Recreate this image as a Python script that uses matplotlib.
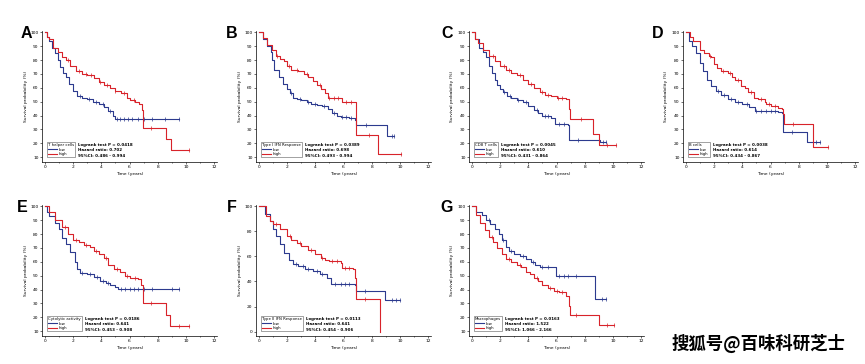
import numpy as np
import matplotlib
matplotlib.use("Agg")
import matplotlib.pyplot as plt
from matplotlib.ticker import MultipleLocator

BLUE = "#2c3a8e"
RED = "#d8232a"

# Kaplan-Meier curves: (time in years, survival %)
a_low = [(0, 100), (0.15, 97), (0.3, 94), (0.5, 89), (0.7, 85), (0.9, 80), (1.1, 75), (1.3, 71),
         (1.5, 68), (1.7, 63), (2.0, 58), (2.3, 54), (2.6, 53), (3.0, 52), (3.4, 50), (3.8, 48.5),
         (4.2, 46), (4.5, 43), (4.8, 39.5), (5.0, 37.5), (9.5, 37.5)]
a_high = [(0, 100), (0.15, 97), (0.3, 95), (0.6, 89), (0.9, 86), (1.2, 82), (1.5, 80), (1.8, 76),
          (2.2, 72), (2.6, 70), (3.0, 69), (3.5, 67), (3.8, 64), (4.2, 62), (4.6, 60), (5.0, 58),
          (5.4, 56), (5.8, 53), (6.0, 51), (6.4, 50), (6.7, 48), (6.85, 44), (6.95, 31), (8.6, 23),
          (8.95, 15), (10.2, 15)]
b_low = [(0, 100), (0.3, 95), (0.6, 90), (0.85, 86), (0.95, 80), (1.1, 73), (1.4, 68), (1.7, 63),
         (2.0, 59), (2.2, 56), (2.4, 53), (2.7, 52), (3.0, 51), (3.4, 49.5), (3.7, 48.5), (4.1, 47.5),
         (4.5, 47), (4.9, 45), (5.2, 42), (5.5, 40), (5.8, 39), (6.4, 38), (6.8, 37), (6.9, 33),
         (9.05, 25), (9.6, 25)]
b_high = [(0, 100), (0.3, 96), (0.6, 91), (0.9, 87), (1.2, 83), (1.5, 81), (1.8, 79), (2.0, 76),
          (2.3, 73), (2.8, 72), (3.2, 70), (3.5, 68), (3.8, 65), (4.1, 62), (4.4, 59), (4.7, 56),
          (4.9, 53), (5.9, 50), (6.85, 42), (6.9, 26), (8.45, 12.5), (10.1, 12.5)]
c_low = [(0, 100), (0.2, 95), (0.5, 89), (0.8, 86), (1.0, 82), (1.2, 76), (1.4, 71), (1.6, 66),
         (1.8, 62), (2.0, 59), (2.2, 57), (2.5, 54), (2.8, 53), (3.2, 51.5), (3.6, 50), (4.0, 47),
         (4.4, 44), (4.7, 42), (5.0, 39.5), (5.6, 38), (5.9, 34), (6.8, 33.5), (6.9, 22.5),
         (9.1, 21), (9.5, 21)]
c_high = [(0, 100), (0.2, 95), (0.4, 92), (0.8, 87), (1.2, 83), (1.6, 79), (2.0, 76), (2.4, 73),
          (2.8, 71), (3.2, 69), (3.6, 66), (4.0, 63), (4.4, 60), (4.8, 57), (5.2, 55), (5.6, 54),
          (6.0, 53), (6.7, 52), (6.85, 45), (6.95, 37.5), (8.6, 27), (9.0, 19), (10.2, 19)]
d_low = [(0, 100), (0.2, 94), (0.4, 90), (0.7, 85), (1.0, 78), (1.2, 72), (1.5, 66), (1.8, 61),
         (2.1, 58), (2.5, 55), (3.0, 52), (3.5, 50), (4.0, 48), (4.5, 46), (4.9, 43), (6.5, 42.5),
         (6.8, 41.5), (6.9, 28.5), (8.6, 21), (9.5, 21)]
d_high = [(0, 100), (0.3, 97), (0.5, 94), (1.0, 87), (1.3, 85), (1.6, 83), (1.8, 82), (2.0, 77),
          (2.2, 74), (2.5, 72), (3.0, 71), (3.3, 68), (3.5, 66), (3.9, 61), (4.2, 60), (4.4, 57),
          (4.8, 53), (5.1, 52), (5.6, 50), (5.7, 48), (6.0, 47), (6.5, 45.5), (6.8, 45), (6.85, 41),
          (6.95, 34), (9.0, 17), (10.1, 17)]
e_low = [(0, 100), (0.15, 96), (0.3, 93), (0.7, 88), (1.0, 84), (1.2, 77), (1.5, 73), (1.8, 67),
         (2.1, 60), (2.3, 55), (2.5, 52), (3.0, 51), (3.5, 49), (3.9, 46.5), (4.3, 44.5), (4.6, 43.5),
         (5.0, 41.5), (5.2, 40.5), (9.5, 40.5)]
e_high = [(0, 100), (0.3, 96), (0.7, 90), (1.2, 85), (1.6, 80), (2.0, 76), (2.4, 74), (2.8, 72),
          (3.2, 71), (3.5, 68), (3.8, 66), (4.2, 63), (4.5, 58), (4.9, 55), (5.3, 53), (5.7, 50),
          (6.0, 48.5), (6.6, 47.5), (6.8, 43), (6.95, 30), (8.55, 21.5), (8.9, 14), (10.2, 14)]
f_low = [(0, 100), (0.4, 94), (0.8, 88), (1.0, 82), (1.2, 76), (1.5, 70), (1.8, 63), (2.1, 57),
         (2.4, 54), (2.8, 52), (3.3, 50), (3.8, 48), (4.3, 46), (4.8, 43), (5.1, 38), (6.8, 37.5),
         (6.9, 32.5), (8.95, 25.5), (10.0, 25.5)]
f_high = [(0, 100), (0.5, 92), (0.8, 88), (1.0, 86), (1.5, 82), (2.0, 76), (2.3, 73), (2.7, 71),
          (3.0, 68), (3.5, 65), (4.0, 62), (4.4, 59), (4.7, 57), (5.0, 56), (5.8, 55), (5.9, 51),
          (6.7, 50), (6.8, 43), (6.9, 26), (8.6, 26), (8.6, 0)]
g_low = [(0, 100), (0.3, 96), (0.7, 94), (1.0, 90), (1.3, 87), (1.6, 84), (1.9, 80), (2.1, 76),
         (2.4, 71), (2.6, 68), (3.0, 66), (3.4, 64), (3.8, 62), (4.2, 60), (4.5, 57.5), (4.8, 56),
         (5.95, 50), (8.7, 33.5), (9.5, 33.5)]
g_high = [(0, 100), (0.3, 94), (0.6, 88), (0.9, 83), (1.2, 78), (1.5, 74), (1.8, 70), (2.1, 66),
          (2.4, 62), (2.8, 60), (3.2, 58), (3.5, 56), (3.8, 53), (4.1, 51), (4.4, 48), (4.7, 46),
          (5.0, 43), (5.4, 41), (5.8, 39), (6.2, 38.5), (6.6, 38), (6.7, 35), (6.85, 28),
          (6.95, 22), (9.0, 14.5), (10.1, 14.5)]

# censored observations (years)
a_low_cens = [2.5, 3.1, 3.6, 4.1, 4.6, 5.1, 5.3, 5.6, 5.9, 6.2, 6.6, 7.0, 7.6, 8.5, 9.5]
a_high_cens = [1.6, 2.4, 2.9, 3.3, 3.9, 4.4, 5.0, 5.6, 6.3, 7.5, 10.2]
b_low_cens = [2.3, 2.9, 3.5, 4.0, 4.6, 5.3, 5.9, 6.2, 6.5, 7.6, 9.4, 9.6]
b_high_cens = [1.3, 2.1, 2.7, 3.4, 4.3, 5.0, 5.3, 5.6, 6.2, 6.5, 7.8, 10.1]
c_low_cens = [2.3, 2.7, 3.3, 3.8, 4.6, 5.2, 5.4, 6.2, 6.5, 7.5, 9.3, 9.5]
c_high_cens = [1.5, 2.3, 2.6, 3.4, 4.2, 5.0, 5.4, 6.1, 6.4, 7.7, 9.6, 10.2]
d_low_cens = [2.3, 2.7, 3.2, 3.7, 4.3, 5.0, 5.3, 5.7, 6.0, 6.3, 7.5, 9.2, 9.5]
d_high_cens = [1.7, 2.6, 3.1, 3.7, 4.6, 5.3, 5.9, 6.3, 7.6, 10.1]
e_low_cens = [2.6, 3.2, 3.7, 4.1, 4.5, 5.4, 5.7, 6.0, 6.3, 6.6, 7.0, 7.6, 9.0, 9.5]
e_high_cens = [1.4, 2.2, 2.9, 3.6, 4.3, 5.1, 5.8, 6.4, 7.5, 9.5, 10.2]
f_low_cens = [2.6, 3.1, 3.5, 4.1, 4.5, 5.4, 5.8, 6.1, 6.4, 7.5, 9.4, 9.7, 10.0]
f_high_cens = [1.2, 2.2, 2.9, 3.7, 4.5, 5.2, 5.5, 6.1, 6.4, 7.5]
g_low_cens = [1.2, 2.2, 2.8, 3.6, 4.3, 5.0, 5.4, 6.2, 6.5, 6.8, 7.4, 9.2, 9.5]
g_high_cens = [1.4, 2.6, 3.4, 4.6, 5.5, 6.0, 6.4, 7.4, 9.6, 10.1]

panel_letters = ["A", "B", "C", "D", "E", "F", "G"]
groups = ["T helper cells", "Type I IFN Response", "CD8 T cells", "B cells",
          "Cytolytic activity", "Type II IFN Response", "Macrophages"]
p_values = ["0.0418", "0.0389", "0.0045", "0.0038", "0.0186", "0.0113", "0.0163"]
hazard_ratios = ["0.702", "0.698", "0.610", "0.614", "0.641", "0.641", "1.522"]
conf_ints = ["0.486 - 0.994", "0.493 - 0.994", "0.431 - 0.864", "0.434 - 0.867",
             "0.453 - 0.908", "0.454 - 0.906", "1.066 - 2.166"]

lows = [a_low, b_low, c_low, d_low, e_low, f_low, g_low]
highs = [a_high, b_high, c_high, d_high, e_high, f_high, g_high]
low_cens = [a_low_cens, b_low_cens, c_low_cens, d_low_cens, e_low_cens, f_low_cens, g_low_cens]
high_cens = [a_high_cens, b_high_cens, c_high_cens, d_high_cens, e_high_cens, f_high_cens, g_high_cens]

W, H = 865, 364
fig = plt.figure(figsize=(W / 100, H / 100), dpi=100)

# pixel layout: left spine x, bottom spine y (from top)
spine_x = [42, 256, 469, 683, 42, 256, 469]
spine_y = [162, 162, 162, 162, 336, 336, 336]
AX_W, AX_H = 175, 131
letter_x = [26, 232, 447, 658, 22, 232, 447]


def step_value(curve, t):
    ts = np.array([p[0] for p in curve])
    vs = np.array([p[1] for p in curve])
    i = np.searchsorted(ts, t, side="right") - 1
    return vs[max(i, 0)]


def draw_curve(ax, curve, cens, color, label):
    ts = [p[0] for p in curve]
    vs = [p[1] for p in curve]
    ax.step(ts, vs, where="post", color=color, lw=0.8, label=label)
    ys = [step_value(curve, t) for t in cens]
    ax.plot(cens, ys, ls="none", marker="|", ms=2.2, mew=0.5, color=color)


axes = []
legends = []
for i in range(7):
    rect = [spine_x[i] / W, (H - spine_y[i]) / H, AX_W / W, AX_H / H]
    ax = fig.add_axes(rect)
    draw_curve(ax, lows[i], low_cens[i], BLUE, "low")
    draw_curve(ax, highs[i], high_cens[i], RED, "high")

    ax.set_xlim(-0.21, 12.2)
    if i == 5:
        ax.set_ylim(-3.5, 101)
        ax.yaxis.set_major_locator(MultipleLocator(20))
    else:
        ax.set_ylim(6.5, 101)
        ax.yaxis.set_major_locator(MultipleLocator(10))
    ax.xaxis.set_major_locator(MultipleLocator(2))
    ax.xaxis.set_minor_locator(MultipleLocator(1))
    for s in ["top", "right"]:
        ax.spines[s].set_visible(False)
    for s in ["left", "bottom"]:
        ax.spines[s].set_linewidth(0.5)
    ax.tick_params(which="both", labelsize=3.2, length=1.5, width=0.4, pad=1)
    ax.tick_params(which="minor", length=1.0)
    ax.set_xlabel("Time (years)", fontsize=3.2, labelpad=2)
    ax.set_ylabel("Survival probability (%)", fontsize=3.2, labelpad=2)

    leg = ax.legend(title=groups[i], loc="lower left", bbox_to_anchor=(0.028, 0.035),
                    fontsize=2.8, title_fontsize=2.8, frameon=True, fancybox=False,
                    edgecolor="#333333", handlelength=2.2, handletextpad=0.6,
                    borderpad=0.3, labelspacing=0.15, borderaxespad=0)
    leg.get_frame().set_linewidth(0.4)
    leg._legend_box.align = "left"
    axes.append(ax)
    legends.append(leg)

    fig.text(letter_x[i] / W, 1 - (spine_y[i] - 129) / H, panel_letters[i],
             fontsize=11.5, fontweight="bold", ha="center", va="center",
             family=["Liberation Sans", "DejaVu Sans"])

fig.canvas.draw()
for i, ax in enumerate(axes):
    bb = legends[i].get_window_extent()
    stats = "Logrank test P = %s\nHazard ratio: %s\n95%%CI: %s" % (
        p_values[i], hazard_ratios[i], conf_ints[i])
    ax.annotate(stats, xy=(bb.x1 + 3, bb.y1 - 1), xycoords="figure pixels",
                fontsize=2.9, fontweight="bold", ha="left", va="top", linespacing=1.5)

fig.text(672 / W, 1 - 343 / H, "搜狐号@百味科研芝士", fontsize=12.5, fontweight="bold",
         ha="left", va="center", family=["Noto Sans CJK SC", "DejaVu Sans"])

fig.savefig("out.png", dpi=100, facecolor="white")
